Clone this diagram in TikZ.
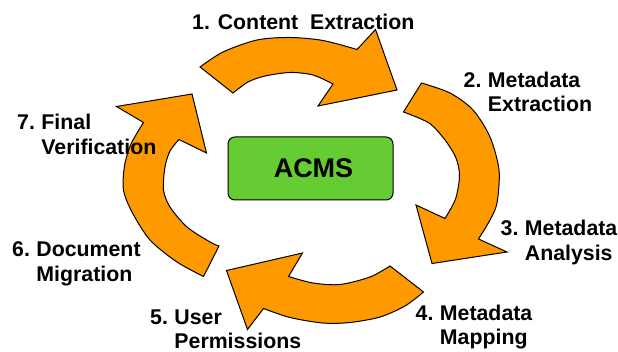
\documentclass[tikz,border=0pt]{standalone}
\usepackage{fontspec}
\setmainfont{Liberation Sans}
\definecolor{arroworange}{HTML}{FF9900}
\definecolor{boxgreen}{HTML}{66CC33}
\begin{document}
\begin{tikzpicture}[x=1pt,y=-1pt,
  cyc/.style={fill=arroworange, draw=black, line width=1pt, line join=miter},
  lbl/.style={anchor=base west, inner sep=0pt, font=\fontsize{21.3}{24.5}\selectfont\bfseries},
  hub/.style={draw=black, fill=boxgreen, rounded corners=7pt, line width=1pt,
    minimum width=165pt, minimum height=63pt, inner sep=0pt,
    font=\fontsize{27}{30}\selectfont\bfseries}
]
\useasboundingbox (0,0) rectangle (618,352);

% arrow 1 (top)
\draw[cyc] plot[smooth] coordinates {(200,67) (223,52) (257,40) (290,37.5) (323,40.5) (357,49.5)}
  -- (375.5,29.5) -- (397,90) -- (318,106) -- (333,84)
  -- plot[smooth] coordinates {(333,84) (313,75) (290,72.5) (265,76) (248,82) (233,93)} -- cycle;

% arrow 2 (right)
\draw[cyc] plot[smooth] coordinates {(421.5,83) (450,93) (473,110) (490,137) (499,170) (497,203) (490,220) (478.5,239)}
  -- (507,252) -- (432,263.5) -- (416,205) -- (445,218.5)
  -- plot[smooth] coordinates {(445,218.5) (455.5,199) (459.5,176) (456,158) (445,140) (429,123) (403.5,112)} -- cycle;

% arrow 3 (bottom)
\draw[cyc] plot[smooth] coordinates {(423.5,292) (405,306) (380,317) (350,322.5) (323,323) (290,317.5) (263.5,308.5)}
  -- (247.5,329.5) -- (226.5,270.5) -- (302.5,253) -- (288.5,276.5)
  -- plot[smooth] coordinates {(288.5,276.5) (313,283) (340,284.5) (370,277) (390,266)} -- cycle;

% arrow 4 (left)
\draw[cyc] plot[smooth] coordinates {(203.5,276.5) (177,262) (150,240) (132,212) (123.5,190) (124.5,166) (131,144) (143.5,122.5)}
  -- (116.5,106.5) -- (192,94) -- (206.5,153) -- (179,139.5)
  -- plot[smooth] coordinates {(179,139.5) (170,151) (165,167) (163.5,190) (170,207) (187,227) (210,242) (219,246)} -- cycle;

% hub
\node[hub] (acms) at (310.5,168.5) {\hspace*{6pt}ACMS};

% labels
\node[lbl] (l1) at (192,29.3) {1. Content~ Extraction};
\node[lbl] (l2) at (463.5,87.5) {\begin{tabular}[t]{@{}l@{\hspace{6.5pt}}l@{}}2.&Metadata\\&Extraction\end{tabular}};
\node[lbl] (l3) at (500.5,236) {\begin{tabular}[t]{@{}l@{\hspace{6.5pt}}l@{}}3.&Metadata\\&Analysis\end{tabular}};
\node[lbl] (l4) at (415.5,320) {\begin{tabular}[t]{@{}l@{\hspace{6.5pt}}l@{}}4.&Metadata\\&Mapping\end{tabular}};
\node[lbl] (l5) at (150,324.3) {\begin{tabular}[t]{@{}l@{\hspace{6.5pt}}l@{}}5.&User\\&Permissions\end{tabular}};
\node[lbl] (l6) at (12,257) {\begin{tabular}[t]{@{}l@{\hspace{6.5pt}}l@{}}6.&Document\\&Migration\end{tabular}};
\node[lbl] (l7) at (17,130) {\begin{tabular}[t]{@{}l@{\hspace{6.5pt}}l@{}}7.&Final\\&Verification\end{tabular}};
\end{tikzpicture}
\end{document}
